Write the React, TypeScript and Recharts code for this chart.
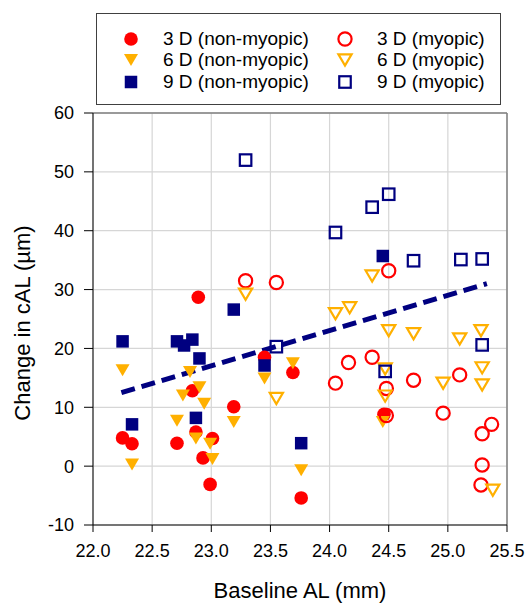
import React from 'react';
import {
  ScatterChart, Scatter, XAxis, YAxis, CartesianGrid, ReferenceLine, Legend, Label,
} from 'recharts';

// [baseline AL (mm), change in cAL (µm)]
const nonMyopic3D = [
  [22.25, 4.8], [22.33, 3.8], [22.71, 3.9], [22.84, 12.8], [22.87, 5.8], [22.89, 28.7], [22.93, 1.4],
  [23.01, 4.7], [22.99, -3.1], [23.19, 10.1], [23.45, 18.5], [23.69, 15.9], [23.76, -5.4], [24.46, 8.8],
];
const nonMyopic6D = [
  [22.25, 16.3], [22.33, 0.3], [22.71, 7.7], [22.76, 12.0], [22.82, 16.0], [22.87, 4.7], [22.9, 13.4],
  [22.94, 10.6], [22.99, 3.8], [23.01, 1.2], [23.19, 7.5], [23.45, 14.9], [23.69, 17.5], [23.76, -0.7], [24.45, 7.5],
];
const nonMyopic9D = [
  [22.25, 21.2], [22.33, 7.1], [22.71, 21.2], [22.77, 20.5], [22.84, 21.5], [22.9, 18.3], [22.87, 8.2],
  [23.19, 26.6], [23.45, 17.1], [23.76, 3.9], [24.45, 35.7],
];
const myopic3D = [
  [23.29, 31.5], [23.55, 31.2], [24.05, 14.1], [24.16, 17.6], [24.36, 18.5], [24.48, 13.2], [24.48, 8.6],
  [24.5, 33.2], [24.71, 14.6], [24.96, 9.0], [25.1, 15.5], [25.29, 5.5], [25.37, 7.1], [25.29, 0.2], [25.28, -3.2],
];
const myopic6D = [
  [23.29, 29.2], [23.55, 11.5], [24.05, 25.9], [24.17, 26.9], [24.36, 32.3], [24.5, 23.0], [24.71, 22.5],
  [25.1, 21.6], [25.28, 23.0], [24.47, 16.5], [24.47, 11.9], [24.96, 14.1], [25.29, 16.7], [25.29, 13.8], [25.38, -4.1],
];
const myopic9D = [
  [23.29, 52.0], [23.55, 20.3], [24.05, 39.7], [24.36, 44.0], [24.5, 46.2], [24.47, 16.1],
  [24.71, 34.9], [25.11, 35.1], [25.29, 35.2], [25.29, 20.6],
];
const trendLine = [[22.24, 12.5], [25.33, 31.0]];

const xTicks = [22.0, 22.5, 23.0, 23.5, 24.0, 24.5, 25.0, 25.5];
const yTicks = [-10, 0, 10, 20, 30, 40, 50, 60];

const RED = '#ff0000';
const ORANGE = '#ffb000';
const NAVY = '#000080';
const FONT = '"Liberation Sans", Arial, sans-serif';

const toPoints = (arr: number[][]) => arr.map(([x, y]) => ({ x, y }));

type Kind = 'circle' | 'triangle' | 'square';

const Marker = ({ cx, cy, kind, color, filled }: { cx: number; cy: number; kind: Kind; color: string; filled: boolean }) => {
  const fill = filled ? color : 'none';
  const sw = filled ? 0 : 2.2;
  if (kind === 'circle') {
    return <circle cx={cx} cy={cy} r={filled ? 6.8 : 6.6} fill={fill} stroke={color} strokeWidth={sw} />;
  }
  if (kind === 'square') {
    const s = filled ? 12.5 : 11.5;
    return <rect x={cx - s / 2} y={cy - s / 2} width={s} height={s} fill={fill} stroke={color} strokeWidth={sw} />;
  }
  const w = filled ? 7 : 6.6;
  const h = filled ? 6 : 5.6;
  return (
    <polygon
      points={`${cx - w},${cy - h} ${cx + w},${cy - h} ${cx},${cy + h}`}
      fill={fill}
      stroke={color}
      strokeWidth={sw}
      strokeLinejoin="miter"
    />
  );
};

const shapeOf = (kind: Kind, color: string, filled: boolean) => (props: any) => (
  <Marker cx={props.cx} cy={props.cy} kind={kind} color={color} filled={filled} />
);

const legendItems: { label: string; kind: Kind; color: string; filled: boolean }[] = [
  { label: '3 D (non-myopic)', kind: 'circle', color: RED, filled: true },
  { label: '3 D (myopic)', kind: 'circle', color: RED, filled: false },
  { label: '6 D (non-myopic)', kind: 'triangle', color: ORANGE, filled: true },
  { label: '6 D (myopic)', kind: 'triangle', color: ORANGE, filled: false },
  { label: '9 D (non-myopic)', kind: 'square', color: NAVY, filled: true },
  { label: '9 D (myopic)', kind: 'square', color: NAVY, filled: false },
];

const renderLegend = () => (
  <div
    style={{
      boxSizing: 'border-box',
      width: 405,
      height: 92,
      border: '1.5px solid #404040',
      background: '#fff',
      display: 'grid',
      gridTemplateColumns: '214px 170px',
      gridAutoRows: '21.5px',
      padding: '14px 0 0 24px',
      fontFamily: FONT,
      fontSize: 19,
      color: '#000',
    }}
  >
    {legendItems.map((it) => (
      <div key={it.label} style={{ display: 'flex', alignItems: 'center', whiteSpace: 'nowrap' }}>
        <svg width={20} height={20} style={{ marginRight: 22 }}>
          <Marker cx={10} cy={10} kind={it.kind} color={it.color} filled={it.filled} />
        </svg>
        <span>{it.label}</span>
      </div>
    ))}
  </div>
);

export default function App() {
  return (
    <div style={{ position: 'absolute', left: 0, top: 0, width: 527, height: 606, background: '#fff', fontFamily: FONT }}>
      <ScatterChart width={527} height={606} margin={{ top: 113, right: 20, bottom: 0, left: 0 }}>
        <CartesianGrid stroke="#d6d6d6" strokeWidth={1.2} />
        <XAxis
          type="number"
          dataKey="x"
          domain={[22, 25.5]}
          ticks={xTicks}
          tickFormatter={(v: number) => v.toFixed(1)}
          height={81}
          tickSize={7}
          tickMargin={12}
          stroke="#000"
          tick={{ fontSize: 18, fill: '#000', fontFamily: FONT }}
          allowDataOverflow
        >
          <Label
            content={() => (
              <text x={300} y={598} textAnchor="middle" fontSize={22} fill="#000" fontFamily={FONT}>
                Baseline AL (mm)
              </text>
            )}
          />
        </XAxis>
        <YAxis
          type="number"
          dataKey="y"
          domain={[-10, 60]}
          ticks={yTicks}
          width={93}
          tickSize={9}
          tickMargin={10}
          stroke="#000"
          tick={{ fontSize: 18, fill: '#000', fontFamily: FONT }}
          allowDataOverflow
        >
          <Label
            content={() => (
              <text
                x={30}
                y={323}
                transform="rotate(-90 30 323)"
                textAnchor="middle"
                fontSize={22}
                fill="#000"
                fontFamily={FONT}
              >
                Change in cAL (µm)
              </text>
            )}
          />
        </YAxis>
        <ReferenceLine y={60} stroke="#7f7f7f" strokeWidth={1.5} />
        <ReferenceLine x={25.5} stroke="#7f7f7f" strokeWidth={1.5} />
        <Legend
          layout="vertical"
          align="center"
          verticalAlign="middle"
          wrapperStyle={{ top: 13, left: 96, width: 405, height: 92 }}
          content={renderLegend}
        />
        <Scatter name="3 D (non-myopic)" data={toPoints(nonMyopic3D)} shape={shapeOf('circle', RED, true)} isAnimationActive={false} />
        <Scatter name="6 D (non-myopic)" data={toPoints(nonMyopic6D)} shape={shapeOf('triangle', ORANGE, true)} isAnimationActive={false} />
        <Scatter name="9 D (non-myopic)" data={toPoints(nonMyopic9D)} shape={shapeOf('square', NAVY, true)} isAnimationActive={false} />
        <Scatter name="3 D (myopic)" data={toPoints(myopic3D)} shape={shapeOf('circle', RED, false)} isAnimationActive={false} />
        <Scatter name="6 D (myopic)" data={toPoints(myopic6D)} shape={shapeOf('triangle', ORANGE, false)} isAnimationActive={false} />
        <Scatter name="9 D (myopic)" data={toPoints(myopic9D)} shape={shapeOf('square', NAVY, false)} isAnimationActive={false} />
        <ReferenceLine
          segment={toPoints(trendLine)}
          stroke={NAVY}
          strokeWidth={5}
          strokeDasharray="14 7"
        />
      </ScatterChart>
    </div>
  );
}
